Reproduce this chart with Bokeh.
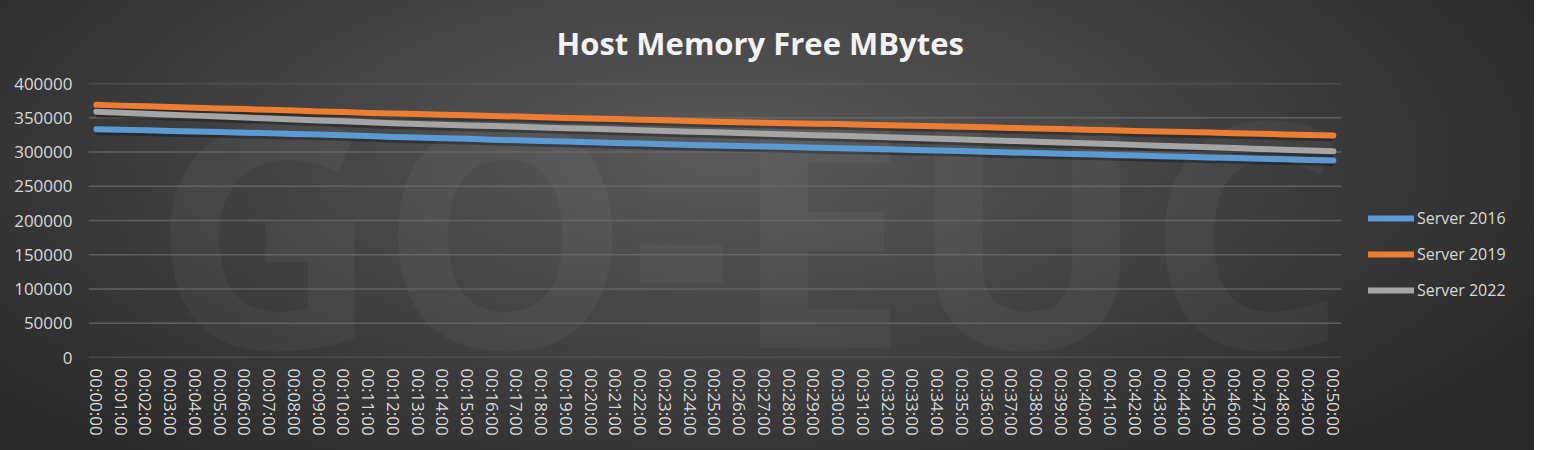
from bokeh.plotting import figure
from bokeh.models import Legend, LegendItem, FixedTicker
from bokeh.core.properties import value
from bokeh.embed import file_html
from bokeh.resources import INLINE

times = [f"00:{m:02d}:00" for m in range(51)]
y_ticks = [0, 50000, 100000, 150000, 200000, 250000, 300000, 350000, 400000]

server_2016 = [333300, 332400, 331800, 330700, 329900, 329300, 328200, 327500, 326400, 325700,
               324300, 323300, 321800, 321000, 320100, 319200, 317900, 317100, 316000, 315200,
               314400, 313300, 312300, 311400, 310300, 309500, 308800, 307900, 307200, 306200,
               305500, 304600, 303900, 303100, 302200, 301500, 300400, 299300, 298400, 297500,
               296600, 295800, 294800, 293900, 293000, 292000, 291200, 290300, 289300, 288500,
               287600]
server_2019 = [368900, 367700, 366800, 365600, 364700, 363500, 362600, 361500, 360600, 359300,
               358400, 357000, 356100, 355300, 354300, 353500, 352700, 351700, 350900, 349800,
               349000, 348100, 347100, 346300, 345200, 344300, 343600, 342800, 342100, 341300,
               340700, 339900, 339200, 338400, 337700, 336900, 336000, 335200, 334300, 333500,
               332500, 331700, 330800, 330000, 329100, 328300, 327400, 326600, 325700, 324900,
               324100]
server_2022 = [358800, 357300, 355900, 354500, 353100, 351700, 350300, 348900, 347600, 346100,
               344800, 343300, 341900, 340800, 339800, 338700, 337800, 336800, 335800, 334800,
               333800, 332700, 331700, 330700, 329700, 328800, 327800, 326700, 325700, 324600,
               323600, 322500, 321500, 320400, 319400, 318300, 317300, 316200, 315100, 313900,
               312700, 311500, 310400, 309200, 308000, 306800, 305700, 304500, 303300, 302200,
               301200]

series_names = ["Server 2016", "Server 2019", "Server 2022"]
series_values = [server_2016, server_2019, server_2022]
colors = ["#5b9bd5", "#ed7d31", "#a5a5a5"]

FONT = "Open Sans"
TEXT_COLOR = "#d9d9d9"

x = list(range(len(times)))
X_LO, X_HI = -0.32, len(times) - 1 + 0.32   # plotted category span
X_END = 58.13                               # frame continues right to hold the legend

p = figure(frame_width=1446, frame_height=274, output_backend="svg", toolbar_location=None,
           x_range=(X_LO, X_END), y_range=(0, 400000),
           min_border_left=88, min_border_right=0, min_border_top=83, min_border_bottom=93)

p.border_fill_color = None
p.background_fill_color = None
p.outline_line_color = None
p.styles = {"background-image": "radial-gradient(ellipse 60% 85% at 47% 35%, #5a5a5a 0%, #404040 55%, #2a2a2a 100%)"}

# watermark
p.text(x=[26.4], y=[192000], text=["GO-EUC"], text_font=value(FONT), text_font_style="bold",
       text_font_size="315px", text_color="white", text_alpha=0.04,
       text_align="center", text_baseline="middle")

# horizontal gridlines over the category span only
p.segment(x0=[X_LO] * len(y_ticks), x1=[X_HI] * len(y_ticks), y0=y_ticks, y1=y_ticks,
          line_color="#6a6a6a", line_width=1.5, line_alpha=0.8)

# title
p.title.text = "Host Memory Free MBytes"
p.title.align = "left"
p.title.offset = 468
p.title.text_font = FONT
p.title.text_font_size = "31px"
p.title.text_font_style = "bold"
p.title.text_color = "#f2f2f2"
p.title.standoff = 39

# axes
p.xaxis.ticker = FixedTicker(ticks=x)
p.xaxis.major_label_overrides = {i: t for i, t in enumerate(times)}
p.xaxis.major_label_orientation = "vertical"
p.yaxis.ticker = FixedTicker(ticks=y_ticks)
for ax in (p.xaxis, p.yaxis):
    ax.axis_line_color = None
    ax.major_tick_line_color = None
    ax.minor_tick_line_color = None
    ax.major_tick_out = 0
    ax.major_tick_in = 0
    ax.minor_tick_out = 0
    ax.major_label_text_font = FONT
    ax.major_label_text_font_size = "17px"
    ax.major_label_text_color = TEXT_COLOR
p.xaxis.major_label_standoff = 11
p.yaxis.major_label_standoff = 16
p.yaxis.formatter.use_scientific = False

p.xgrid.grid_line_color = None
p.ygrid.grid_line_color = None

# shadows then lines
for vals in series_values:
    p.line(x, [v - 4000 for v in vals], line_color="black", line_alpha=0.3, line_width=6)

items = []
for name, vals, col in zip(series_names, series_values, colors):
    r = p.line(x, vals, line_color=col, line_width=6, line_cap="round", line_join="round")
    items.append(LegendItem(label=name, renderers=[r]))

legend = Legend(items=items, location=(1280, 56), orientation="vertical",
                glyph_width=46, glyph_height=20, label_standoff=3, spacing=14,
                padding=0, margin=0, border_line_color=None, background_fill_alpha=0,
                label_text_font=FONT, label_text_font_size="16px", label_text_color=TEXT_COLOR)
p.add_layout(legend, "center")

open("out.html", "w").write(file_html(p, INLINE))
